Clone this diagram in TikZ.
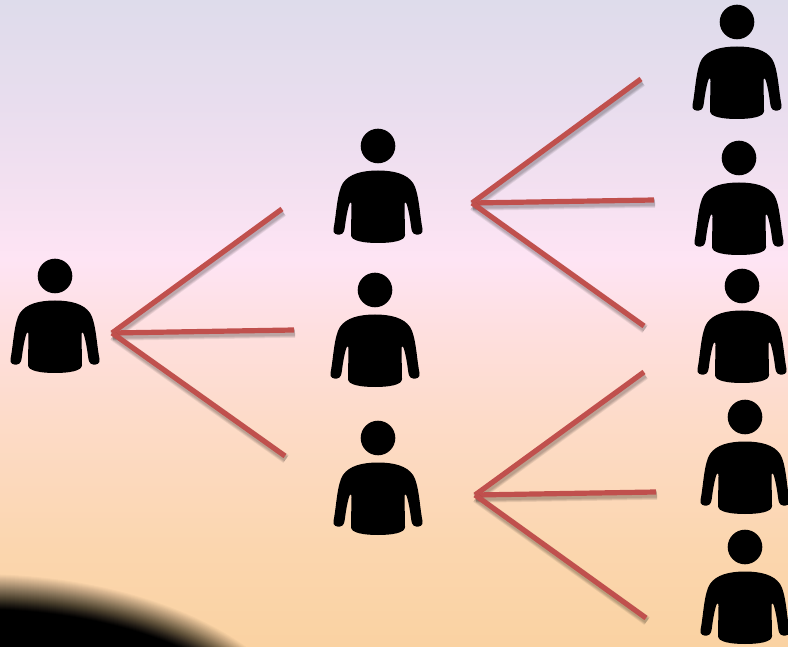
\documentclass[tikz,border=0pt]{standalone}
\usetikzlibrary{calc}
\definecolor{c0}{HTML}{DEDCEB}
\definecolor{c1}{HTML}{E8DDEE}
\definecolor{c2}{HTML}{F5E1F1}
\definecolor{c3}{HTML}{FEE4F4}
\definecolor{c4}{HTML}{FEDFDF}
\definecolor{c5}{HTML}{FDDBC8}
\definecolor{c6}{HTML}{FBD6AE}
\definecolor{c7}{HTML}{FAD2A2}
\definecolor{linkred}{HTML}{C0504D}
\pgfdeclareverticalshading{skyband}{100bp}{
color(0bp)=(c7);color(25bp)=(c7);
color(32.5bp)=(c6);color(42.5bp)=(c5);color(49.5bp)=(c4);color(54.9bp)=(c3);
color(59.5bp)=(c2);color(67.3bp)=(c1);color(75bp)=(c0);color(100bp)=(c0)}
\tikzset{
  personshape/.pic={
    \fill[black] (0,0) circle (17.3);
    \fill[black] (0,24.5)
      .. controls (16,24.5) and (29,28) .. (35,37)
      .. controls (41,46) and (41.5,68) .. (44.5,83)
      .. controls (45.5,88) and (41,89) .. (38,88.5)
      .. controls (34,88) and (33.5,84) .. (33,80)
      .. controls (32,72) and (30.5,64) .. (29,59)
      .. controls (28,55.5) and (26.5,55.5) .. (26.5,59)
      .. controls (26.5,68) and (27,78) .. (27,89)
      .. controls (27,95) and (14,97) .. (0,97)
      .. controls (-14,97) and (-27,95) .. (-27,89)
      .. controls (-27,78) and (-26.5,68) .. (-26.5,59)
      .. controls (-26.5,55.5) and (-28,55.5) .. (-29,59)
      .. controls (-30.5,64) and (-32,72) .. (-33,80)
      .. controls (-33.5,84) and (-34,88) .. (-38,88.5)
      .. controls (-41,89) and (-45.5,88) .. (-44.5,83)
      .. controls (-41.5,68) and (-41,46) .. (-35,37)
      .. controls (-29,28) and (-16,24.5) .. (0,24.5) -- cycle;
  },
  linkshadow/.style={black,line cap=butt,opacity=0.07},
  linkmain/.style={draw=linkred,line width=5.2pt,line cap=butt},
}
\newcommand{\softlink}[2]{%
  \foreach \w in {9.5,8,6.5,5}{\draw[linkshadow,line width=\w pt,transform canvas={shift={(1pt,-3pt)}}] (#1) -- (#2);}
  \draw[linkmain] (#1) -- (#2);
}
\begin{document}
\begin{tikzpicture}[x=1pt,y=-1pt]
\useasboundingbox (0,0) rectangle (788,647);
\begin{scope}
\clip (0,0) rectangle (788,647);
\shade[shading=skyband] (0,0) rectangle (788,647);
\foreach \i in {0,...,35}{
  \pgfmathsetmacro{\rr}{18-\i*1.0}
  \pgfmathsetmacro{\op}{1/(36-\i)}
  \pgfmathsetmacro{\ax}{320+\rr}
  \pgfmathsetmacro{\ay}{163+\rr}
  \fill[black,fill opacity=\op] (-25,755) ellipse [x radius=\ax,y radius=\ay];
}
\end{scope}
\coordinate (a0) at (112,333);
\coordinate (a1) at (282,209);
\coordinate (a2) at (294,330);
\coordinate (a3) at (285,456);
\coordinate (b0) at (472,203);
\coordinate (b1) at (641,79);
\coordinate (b2) at (654,200);
\coordinate (b3) at (644,326);
\coordinate (c0) at (475,495);
\coordinate (c1) at (644,372);
\coordinate (c2) at (656,492);
\coordinate (c3) at (646,618);
\softlink{a0}{a1}\softlink{a0}{a2}\softlink{a0}{a3}
\softlink{b0}{b1}\softlink{b0}{b2}\softlink{b0}{b3}
\softlink{c0}{c1}\softlink{c0}{c2}\softlink{c0}{c3}
\foreach \px/\py in {55/276,378/146,375/290,378/438,737/22,739/158,742/286,745/417,745/547}{
  \pic at (\px,\py) {personshape};
}
\end{tikzpicture}
\end{document}
